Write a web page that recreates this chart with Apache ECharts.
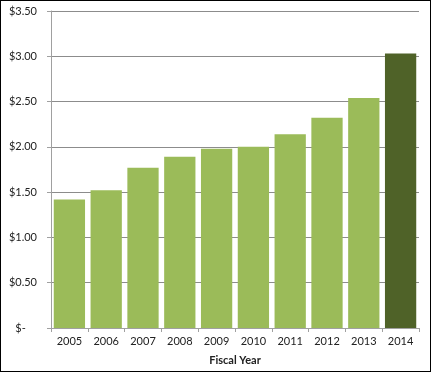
<!DOCTYPE html>
<html><head><meta charset="utf-8">
<script src="https://cdn.jsdelivr.net/npm/echarts@6/dist/echarts.min.js"></script>
<style>html,body{margin:0;padding:0;background:#fff}#c{width:431px;height:372px;box-sizing:border-box;border:1px solid #000;}</style>
</head><body><div id="c"></div>
<script>
const categories = ['2005','2006','2007','2008','2009','2010','2011','2012','2013','2014'];
const values = [1.42, 1.52, 1.77, 1.89, 1.98, 2.00, 2.14, 2.32, 2.54, 3.03];
const barColors = ['#9bbb59','#9bbb59','#9bbb59','#9bbb59','#9bbb59','#9bbb59','#9bbb59','#9bbb59','#9bbb59','#4f6228'];
const xTitle = 'Fiscal Year';
const chart = echarts.init(document.getElementById('c'));
chart.setOption({
  animation:false,
  grid:{left:50,right:11,top:10,bottom:41,containLabel:false},
  xAxis:{type:'category',data:categories,name:xTitle,nameLocation:'middle',nameGap:27,
    nameTextStyle:{fontFamily:'Lato',fontSize:11,fontWeight:'bold',color:'#222'},
    axisLine:{lineStyle:{color:'#a0a0a0',width:1}},
    axisTick:{show:true,length:4,lineStyle:{color:'#a0a0a0'}},
    axisLabel:{fontFamily:'Lato',fontSize:11,color:'#222',margin:8}},
  yAxis:{type:'value',min:0,max:3.5,interval:0.5,
    axisLine:{show:true,lineStyle:{color:'#a0a0a0'}},
    axisTick:{show:true,length:4,lineStyle:{color:'#a0a0a0'}},
    splitLine:{lineStyle:{color:'#8c8c8c',width:1}},
    axisLabel:{fontFamily:'Lato',fontSize:11,color:'#222',margin:14,
      formatter:v=> v===0 ? '$-    ' : '$'+v.toFixed(2)}},
  series:[{type:'bar',data:values.map((v,i)=>({value:v,itemStyle:{color:barColors[i]}})),
    barCategoryGap:'15%'}]
});
</script></body></html>
